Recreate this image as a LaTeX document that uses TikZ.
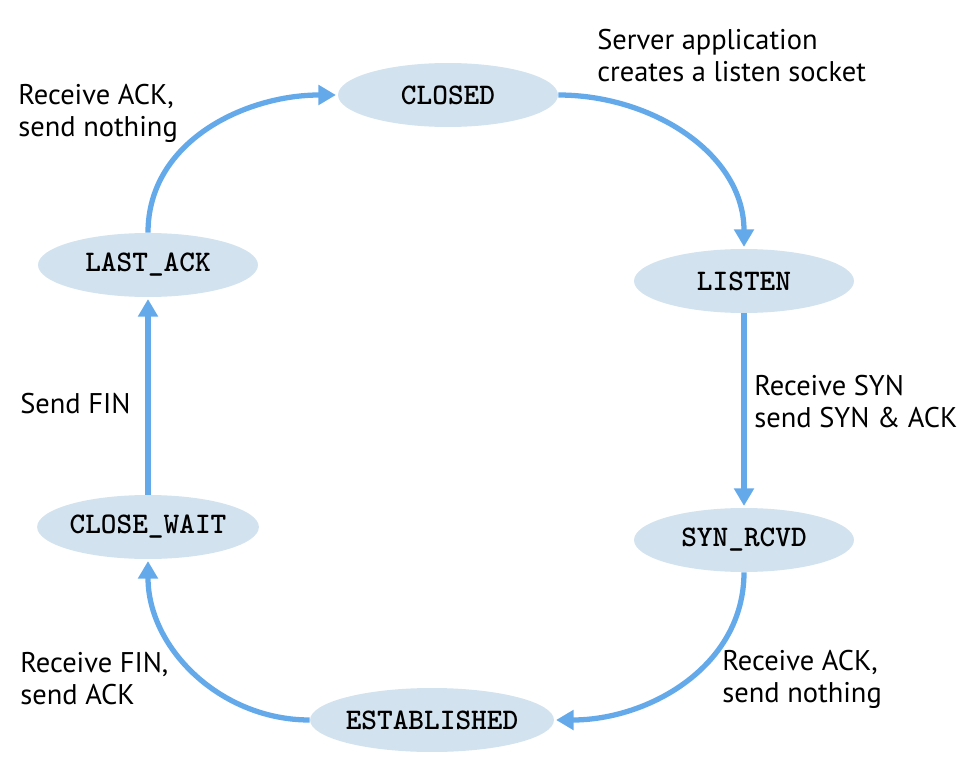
\documentclass[tikz,border=0pt]{standalone}
\usepackage{fontspec}
\setmainfont{PT Sans}
\usetikzlibrary{arrows.meta,shapes.geometric}
\definecolor{statefill}{HTML}{D3E2EF}
\definecolor{arrowblue}{HTML}{64AAEB}
\tikzset{
  state/.style={ellipse, fill=statefill, minimum width=4.4cm, minimum height=1.28cm, inner sep=0pt,
    font=\fontsize{17}{18}\ttfamily\bfseries},
  trans/.style={draw=arrowblue, line width=3pt, -{Triangle[width=11pt,length=10pt]}, shorten >=1pt},
  lbl/.style={align=left, anchor=west, inner sep=0pt, font=\fontsize{16.2}{18.2}\selectfont}
}
\begin{document}
\begin{tikzpicture}[x=0.02cm,y=-0.02cm]
  \useasboundingbox (0,0) rectangle (957,777);
  \node[state] (closed) at (448,95) {CLOSED};
  \node[state] (listen) at (744,281) {LISTEN};
  \node[state] (synrcvd) at (744,540) {SYN\_RCVD};
  \node[state] (established) at (432,720) {ESTABLISHED};
  \node[state] (closewait) at (148,527) {CLOSE\_WAIT};
  \node[state] (lastack) at (148,265) {LAST\_ACK};

  \draw[trans] (closed.east) to[out=0,in=90] (listen.north);
  \draw[trans] (listen.south) -- (synrcvd.north);
  \draw[trans] (synrcvd.south) to[out=-90,in=0] (established.east);
  \draw[trans] (established.west) to[out=180,in=-90] (closewait.south);
  \draw[trans] (closewait.north) -- (lastack.south);
  \draw[trans] (lastack.north) to[out=90,in=180] (closed.west);

  \node[lbl] (lsocket) at (597,56) {Server application\\creates a listen socket};
  \node[lbl] (lack1) at (18,113) {Receive ACK,\\send nothing};
  \node[lbl] (lsyn) at (754,402) {Receive SYN\\send SYN \& ACK};
  \node[lbl] (lfin) at (20,404) {Send FIN};
  \node[lbl] (lrfin) at (20,679) {Receive FIN,\\send ACK};
  \node[lbl] (lack2) at (722,679) {Receive ACK,\\send nothing};
\end{tikzpicture}
\end{document}
